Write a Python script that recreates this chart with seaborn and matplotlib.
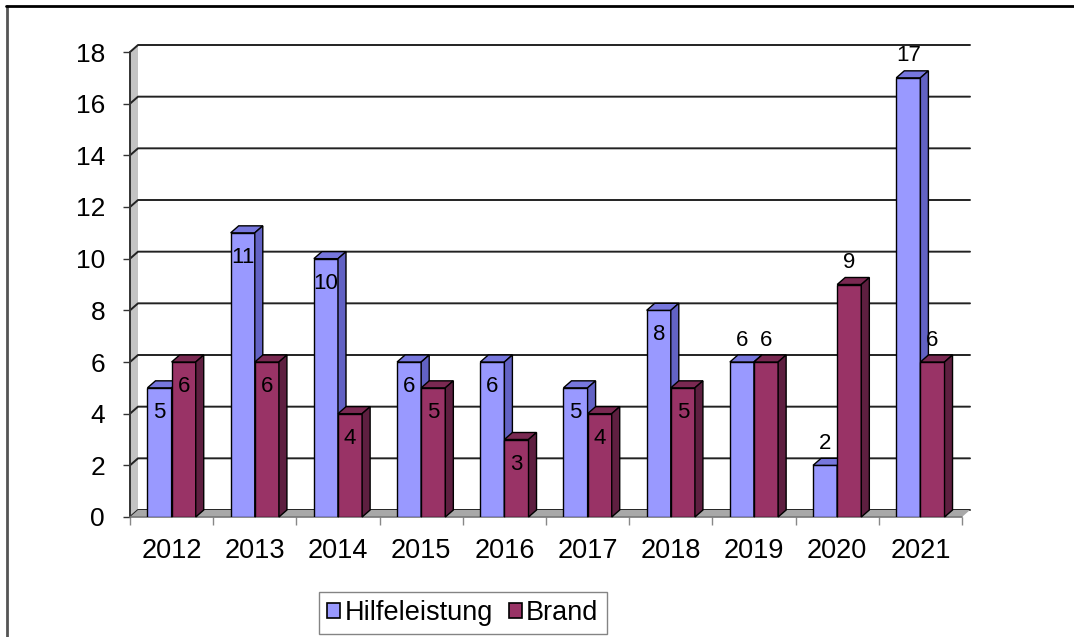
import numpy as np
import pandas as pd
import matplotlib
matplotlib.use("Agg")
import matplotlib.pyplot as plt
import seaborn as sns
from matplotlib.patches import Polygon, Patch
from matplotlib.lines import Line2D

# Daten
years = ["2012", "2013", "2014", "2015", "2016", "2017", "2018", "2019", "2020", "2021"]
hilfeleistung = [5, 11, 10, 6, 6, 5, 8, 6, 2, 17]
brand = [6, 6, 4, 5, 3, 4, 5, 6, 9, 6]
series = ["Hilfeleistung", "Brand"]
y_ticks = [0, 2, 4, 6, 8, 10, 12, 14, 16, 18]

# label inside ("in") or above ("out") the bar
label_pos_hilfe = ["in", "in", "in", "in", "in", "in", "in", "out", "out", "out"]
label_pos_brand = ["in", "in", "in", "in", "in", "in", "in", "out", "out", "out"]

df = pd.DataFrame({
    "Jahr": years * 2,
    "Anzahl": hilfeleistung + brand,
    "Art": [series[0]] * len(years) + [series[1]] * len(years),
})

front = {"Hilfeleistung": "#9999FF", "Brand": "#993366"}
top_c = {"Hilfeleistung": "#7777DD", "Brand": "#7A2952"}
side_c = {"Hilfeleistung": "#6262C4", "Brand": "#5E1F40"}

sns.set_style("white")
plt.rcParams["font.family"] = ["Liberation Sans", "DejaVu Sans"]
plt.rcParams["text.color"] = "black"
plt.rcParams["xtick.labelcolor"] = "black"
plt.rcParams["ytick.labelcolor"] = "black"

W, H = 1074, 637
fig = plt.figure(figsize=(W / 100, H / 100), dpi=100)
ax = fig.add_axes([130 / W, 1 - 517 / H, (962 - 130) / W, (517 - 52) / H])

sns.barplot(data=df, x="Jahr", y="Anzahl", hue="Art", hue_order=series,
            palette=[front[s] for s in series], width=0.58, saturation=1,
            edgecolor="black", linewidth=1, legend=False, ax=ax)

ax.set_xlim(-0.5, len(years) - 0.5)
ax.set_ylim(0, 18)
ax.set_xlabel("")
ax.set_ylabel("")
for sp in ax.spines.values():
    sp.set_visible(False)

# depth of the 3d effect (8 px right, 7 px up) in data units
pos = ax.get_position()
ddx = 8 * (len(years)) / (pos.width * W)
ddy = 7 * 18 / (pos.height * H)
x0, x1 = -0.5, len(years) - 0.5

# walls and floor
ax.add_patch(Polygon([(x0, 0), (x0 + ddx, ddy), (x0 + ddx, 18 + ddy), (x0, 18)],
                     closed=True, facecolor="#C4C4C4", edgecolor="none", zorder=0.4, clip_on=False))
ax.add_patch(Polygon([(x0, 0), (x1, 0), (x1 + ddx, ddy), (x0 + ddx, ddy)],
                     closed=True, facecolor="#A8A8A8", edgecolor="none", zorder=0.6, clip_on=False))
for t in y_ticks:
    ax.plot([x0, x0 + ddx, x1 + ddx], [t, t + ddy, t + ddy], color="#222222",
            lw=1.4, zorder=0.5, clip_on=False)
ax.plot([x0, x0], [0, 18], color="#333333", lw=1.4, zorder=0.7, clip_on=False)
ax.plot([x0, x1], [0, 0], color="#777777", lw=1.2, zorder=0.7, clip_on=False)

# 3d faces of the bars
bars = list(ax.patches[:2 * len(years)])
arts = [series[0]] * len(years) + [series[1]] * len(years)
labels = hilfeleistung + brand
lpos = label_pos_hilfe + label_pos_brand
order = sorted(range(len(bars)), key=lambda i: bars[i].get_x())
for rank, i in enumerate(order):
    p = bars[i]
    bx, bw, bh = p.get_x(), p.get_width(), p.get_height()
    z = 2 + rank * 0.1
    p.set_zorder(z)
    ax.add_patch(Polygon([(bx, bh), (bx + bw, bh), (bx + bw + ddx, bh + ddy), (bx + ddx, bh + ddy)],
                         closed=True, facecolor=top_c[arts[i]], edgecolor="black", lw=1,
                         zorder=z + 0.01, clip_on=False))
    ax.add_patch(Polygon([(bx + bw, 0), (bx + bw + ddx, ddy), (bx + bw + ddx, bh + ddy), (bx + bw, bh)],
                         closed=True, facecolor=side_c[arts[i]], edgecolor="black", lw=1,
                         zorder=z + 0.02, clip_on=False))
    ty = bh - 0.95 if lpos[i] == "in" else bh + 0.85
    ax.text(bx + bw / 2, ty, str(labels[i]), ha="center", va="center",
            fontsize=16, color="black", zorder=10)

# ticks
ax.set_yticks(y_ticks)
ax.tick_params(axis="y", which="major", length=5, width=1, color="#333333",
               pad=13, labelsize=19, left=True)
ax.set_xticks(range(len(years)))
ax.set_xticklabels(years)
ax.set_xticks(np.arange(len(years) + 1) - 0.5, minor=True)
ax.tick_params(axis="x", which="major", length=0, pad=15, labelsize=19.5)
ax.tick_params(axis="x", which="minor", length=6, width=1, color="#888888", bottom=True)

# legend
handles = [Patch(facecolor=front[s], edgecolor="black", lw=1.2) for s in series]
leg = fig.legend(handles, series, loc="center", bbox_to_anchor=(463 / W, 1 - 613 / H),
                 ncol=2, fontsize=19.5, frameon=True, fancybox=False, edgecolor="#666666",
                 handlelength=0.48, handleheight=0.48, handletextpad=0.15,
                 columnspacing=0.6, borderpad=0.3, borderaxespad=0)
leg.get_frame().set_linewidth(1)

# outer border
fig.add_artist(Line2D([7 / W, 7 / W], [0, 1 - 6 / H], transform=fig.transFigure,
                      color="#555555", lw=2))
fig.add_artist(Line2D([6 / W, 1], [1 - 6 / H, 1 - 6 / H], transform=fig.transFigure,
                      color="black", lw=2))

fig.savefig("out.png", dpi=100)
